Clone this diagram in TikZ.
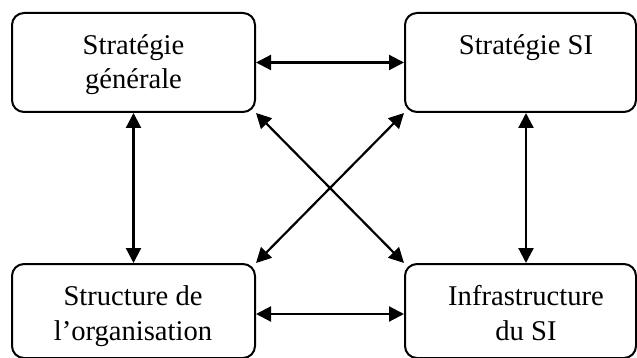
\documentclass[tikz,border=0pt]{standalone}
\usepackage{fontspec}
\setmainfont{Liberation Serif}
\usetikzlibrary{arrows.meta}
\begin{document}
\begin{tikzpicture}[x=1pt,y=-1pt,
  box/.style={draw, line width=2pt, rounded corners=12pt, inner sep=0pt},
  lbl/.style={font=\fontsize{28.6}{34}\selectfont, anchor=base, inner sep=0pt},
  link/.style={line width=2.2pt,
    {Triangle[length=15pt,width=15pt]}-{Triangle[length=15pt,width=15pt]}}]
\useasboundingbox (0,0) rectangle (637,358);
\clip (0,0) rectangle (637,358);

% boxes
\node[box, minimum width=243pt, minimum height=99pt] (sg)  at (133.5,62.5) {};
\node[box, minimum width=231pt, minimum height=99pt] (ssi) at (520.5,62.5) {};
\node[box, minimum width=243pt, minimum height=94pt] (so)  at (133.5,311) {};
\node[box, minimum width=231pt, minimum height=94pt] (inf) at (520.5,311) {};

% labels
\node[lbl] (sg1)  at (133.5,55) {Stratégie};
\node[lbl] (sg2)  at (133.5,89) {générale};
\node[lbl] (ssi1) at (526,55)   {Stratégie SI};
\node[lbl] (so1)  at (133,305)  {Structure de};
\node[lbl] (so2)  at (133,340)  {l’organisation};
\node[lbl] (inf1) at (526,305)  {Infrastructure};
\node[lbl] (inf2) at (526,340)  {du SI};

% connectors
\draw[link] (sg.east) -- (ssi.west);
\draw[link] ([yshift=-3pt]so.east) -- ([yshift=-3pt]inf.west);
\draw[link] (sg.south) -- (so.north);
\draw[link] ([xshift=5.5pt]ssi.south) -- ([xshift=5.5pt]inf.north);
\draw[link] (sg.south east) -- (inf.north west);
\draw[link] (ssi.south west) -- (so.north east);
\end{tikzpicture}
\end{document}
